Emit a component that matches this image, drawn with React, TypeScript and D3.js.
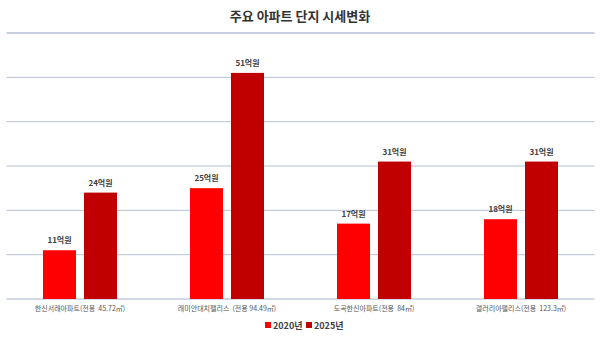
import React from "react";
import * as d3 from "d3";

const categories = [
  "한신서래아파트(전용  45.72㎡)",
  "래미안대치팰리스  (전용 94.49㎡)",
  "도곡한신아파트(전용  84㎡)",
  "갤러리아팰리스(전용  123.3㎡)",
];
const seriesNames = ["2020년", "2025년"];
const values2020 = [11, 25, 17, 18];
const values2025 = [24, 51, 31, 31];
const yTicks = [0, 10, 20, 30, 40, 50, 60];
const colors = ["#ff0000", "#c00000"];
const title = "주요 아파트 단지 시세변화";

export default function App() {
  const W = 600, H = 338;
  const left = 6.5, right = 594.5, top = 33, bottom = 299;
  const x = d3.scaleBand<string>().domain(categories).range([left, right]);
  const y = d3.scaleLinear().domain([0, 60]).range([bottom, top]);
  const barW = 33, gap = 8;
  const series = [values2020, values2025];
  const font = "'Noto Sans CJK KR', 'Noto Sans', sans-serif";
  return (
    <svg width={W} height={H} style={{ position: "absolute", left: 0, top: 0, background: "#fff" }} fontFamily={font}>
      <rect width={W} height={H} fill="#fff" />
      <text x={300} y={21} textAnchor="middle" fontSize={13} fontWeight="bold" fill="#333">{title}</text>
      {yTicks.map((t) => (
        <line key={t} x1={left} x2={right} y1={y(t)} y2={y(t)}
          stroke={t === 60 ? "#8f9cc4" : t === 0 ? "#a8b3d0" : "#b8c0d2"} strokeWidth={1} />
      ))}
      {categories.map((c, i) => {
        const cx = (x(c) as number) + x.bandwidth() / 2;
        return (
          <g key={c}>
            {series.map((vals, s) => {
              const bx = cx + (s === 0 ? -gap / 2 - barW : gap / 2);
              const v = vals[i];
              return (
                <g key={s}>
                  <rect x={bx} y={y(v)} width={barW} height={y(0) - y(v)} fill={colors[s]} />
                  <text x={bx + barW / 2} y={y(v) - 7} textAnchor="middle" fontSize={8} fontWeight="bold" fill="#404040">{v}억원</text>
                </g>
              );
            })}
            <text x={cx} y={311} textAnchor="middle" fontSize={7} fill="#555" style={{ whiteSpace: "pre" }}>{c}</text>
          </g>
        );
      })}
      {seriesNames.map((n, s) => {
        const lx = 265 + s * 41;
        return (
          <g key={n}>
            <rect x={lx} y={322} width={6} height={6} fill={colors[s]} />
            <text x={lx + 8} y={328.5} fontSize={9} fontWeight="bold" fill="#404040">{n}</text>
          </g>
        );
      })}
    </svg>
  );
}
